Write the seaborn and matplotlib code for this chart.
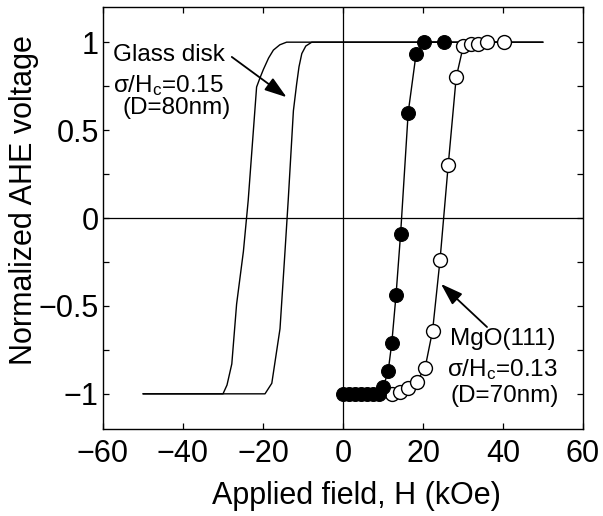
import numpy as np
import pandas as pd
import matplotlib
matplotlib.use("Agg")
import matplotlib.pyplot as plt
import seaborn as sns

# Glass disk: two switching curves (no markers)
glass_a_h = [-50, -30, -29, -27.8, -26.6, -24.9, -23.7, -21.6, -20.7, -19.9, -18.6, -17.4,
             -15.8, -14.1, 50]
glass_a_v = [-1.0, -1.0, -0.95, -0.83, -0.49, -0.19, 0.10, 0.745, 0.80, 0.845, 0.91, 0.955,
             0.985, 1.0, 1.0]
glass_b_h = [-50, -19.5, -17.8, -15.75, -14.5, -13.7, -12.4, -11.6, -11.0, -10.3, -9.3, -7.8, 50]
glass_b_v = [-1.0, -1.0, -0.94, -0.63, -0.19, 0.10, 0.61, 0.76, 0.86, 0.935, 0.978, 1.0, 1.0]

# MgO(111): filled and open circles
mgo_filled_h = [0, 1.5, 3, 4.5, 6, 7.5, 9, 10.1, 11.3, 12.2, 13.25, 14.4, 16.3, 18.25, 20.3, 25.3]
mgo_filled_v = [-1.0, -1.0, -1.0, -1.0, -1.0, -1.0, -1.0, -0.96, -0.87, -0.71, -0.44, -0.09,
                0.60, 0.93, 1.0, 1.0]
mgo_open_h = [12.2, 14.25, 16.3, 18.4, 20.5, 22.4, 24.25, 26.3, 28.3, 30.1, 32, 33.8, 35.9, 40.25]
mgo_open_v = [-1.0, -0.99, -0.966, -0.93, -0.855, -0.64, -0.24, 0.30, 0.80, 0.98, 0.99, 0.99,
              1.0, 1.0]

x_ticks = [-60, -40, -20, 0, 20, 40, 60]
x_ticklabels = ["\u221260", "\u221240", "\u221220", "0", "20", "40", "60"]
y_ticks = [-1, -0.5, 0, 0.5, 1]
y_ticklabels = ["\u22121", "\u22120.5", "0", "0.5", "1"]
y_minor = [-0.75, -0.25, 0.25, 0.75]

sns.set_theme(style="ticks")
plt.rcParams.update({
    "font.family": ["Liberation Sans", "DejaVu Sans"],
    "mathtext.fontset": "custom",
    "mathtext.rm": "Liberation Sans",
    "mathtext.it": "Liberation Sans",
    "axes.linewidth": 1.0,
    "axes.edgecolor": "black",
    "text.color": "black",
    "axes.labelcolor": "black",
})

fig = plt.figure(figsize=(6.03, 5.16), dpi=100)
ax = fig.add_axes([103 / 603, 1 - 429 / 516, 480 / 603, 422 / 516])

ax.axhline(0, color="black", lw=0.9, zorder=1)
ax.axvline(0, color="black", lw=0.9, zorder=1)

ga = pd.DataFrame({"H": glass_a_h, "V": glass_a_v})
gb = pd.DataFrame({"H": glass_b_h, "V": glass_b_v})
mf = pd.DataFrame({"H": mgo_filled_h, "V": mgo_filled_v})
mo = pd.DataFrame({"H": mgo_open_h, "V": mgo_open_v})

for d in (ga, gb):
    sns.lineplot(data=d, x="H", y="V", sort=False, estimator=None,
                 color="black", lw=1.0, ax=ax, zorder=2)

sns.lineplot(data=mo, x="H", y="V", sort=False, estimator=None, color="black",
             lw=1.0, marker="o", markersize=10, markerfacecolor="white",
             markeredgecolor="black", markeredgewidth=1.0, ax=ax, zorder=3)
sns.lineplot(data=mf, x="H", y="V", sort=False, estimator=None, color="black",
             lw=1.0, marker="o", markersize=10, markerfacecolor="black",
             markeredgecolor="black", ax=ax, zorder=4)

ax.set_xlim(-60, 60)
ax.set_ylim(-1.2, 1.2)
ax.set_xticks(x_ticks)
ax.set_xticklabels(x_ticklabels)
ax.set_yticks(y_ticks)
ax.set_yticklabels(y_ticklabels)
ax.set_yticks(y_minor, minor=True)
ax.tick_params(axis="both", which="both", direction="in", top=True, right=True,
               length=4.5, width=0.9, color="black", labelsize=22, labelcolor="black")
ax.tick_params(axis="x", pad=7)
ax.tick_params(axis="y", pad=3)
for s in ax.spines.values():
    s.set_visible(True)
    s.set_color("black")

ax.set_xlabel("Applied field, H (kOe)", fontsize=22)
ax.set_ylabel("Normalized AHE voltage", fontsize=22)
ax.xaxis.set_label_coords(0.529, -0.158)
ax.xaxis.label.set_verticalalignment("center")
ax.yaxis.set_label_coords(-0.164, 0.543)
ax.yaxis.label.set_verticalalignment("center")

tfs = 17.5
ax.text(-57.5, 0.926, "Glass disk", fontsize=tfs, va="center", ha="left")
ax.text(-57.5, 0.754, "\u03c3/H$_\\mathrm{c}$=0.15", fontsize=tfs, va="center", ha="left")
ax.text(-55.0, 0.623, "(D=80nm)", fontsize=tfs, va="center", ha="left")
ax.annotate("", xy=(-14.1, 0.687), xytext=(-27.8, 0.916),
            arrowprops=dict(arrowstyle="-|>,head_length=0.9,head_width=0.3",
                            mutation_scale=15, color="black", lw=1.3,
                            shrinkA=0, shrinkB=0))

ax.text(26.75, -0.69, "MgO(111)", fontsize=tfs, va="center", ha="left")
ax.text(26.0, -0.86, "\u03c3/H$_\\mathrm{c}$=0.13", fontsize=tfs, va="center", ha="left")
ax.text(26.75, -1.01, "(D=70nm)", fontsize=tfs, va="center", ha="left")
ax.annotate("", xy=(24.5, -0.375), xytext=(36.0, -0.62),
            arrowprops=dict(arrowstyle="-|>,head_length=0.9,head_width=0.3",
                            mutation_scale=15, color="black", lw=1.3,
                            shrinkA=0, shrinkB=0))

fig.savefig("out.png", dpi=100)
